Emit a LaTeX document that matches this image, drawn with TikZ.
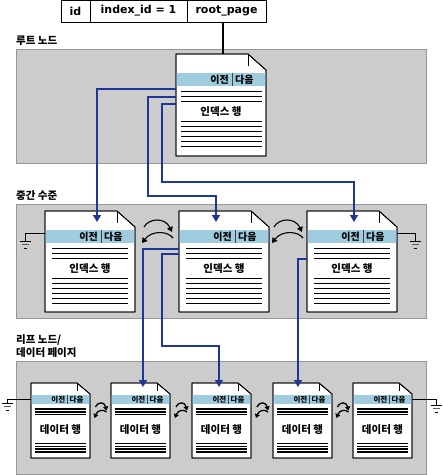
\documentclass[tikz,border=0pt]{standalone}
\usepackage{fontspec}
\setmainfont{DejaVu Sans}
\newfontfamily\kr{Noto Sans CJK KR}
\usetikzlibrary{arrows.meta}
\definecolor{panelgray}{RGB}{204,204,204}
\definecolor{panelline}{RGB}{150,150,150}
\definecolor{bandblue}{RGB}{160,204,224}
\definecolor{linkblue}{RGB}{30,55,150}
\definecolor{gndgray}{RGB}{90,90,90}
\tikzset{
  panel/.style={fill=panelgray, draw=panelline, line width=1pt},
  pageborder/.style={draw=black, fill=white, line width=0.8pt},
  rowline/.style={line width=1.9pt},
  leafrow/.style={line width=1.6pt},
  link/.style={draw=linkblue, line width=1.5pt, -{Triangle[length=7pt,width=8pt]}},
  swaparrow/.style={line width=1.1pt, -{Triangle[length=5pt,width=6pt]}},
  leafswap/.style={line width=1.3pt, -{Triangle[length=4pt,width=5pt]}},
  gnd/.style={line width=0.8pt},
  lbl/.style={font=\kr\bfseries\fontsize{10.5}{11}\selectfont, anchor=west, inner sep=0},
  cell/.style={font=\bfseries\fontsize{11}{12}\selectfont, inner sep=0},
  bandtxt/.style={font=\kr\bfseries\fontsize{10}{11}\selectfont, inner sep=0},
  leafband/.style={font=\kr\bfseries\fontsize{7.5}{8}\selectfont, inner sep=0},
  rowtxt/.style={font=\kr\bfseries\fontsize{10.5}{11}\selectfont, inner sep=0},
  leaftxt/.style={font=\kr\bfseries\fontsize{10.5}{11}\selectfont, inner sep=0},
}
% index page: name, x1, y1, height, margin
\newcommand\idxpage[5]{%
  \begin{scope}[shift={(#2,#3)}]
    \path[pageborder] (0,0) -- (72,0) -- (90,16) -- (90,#4) -- (0,#4) -- cycle;
    \fill[bandblue] (0.4,18.5) rectangle (89.6,32);
    \draw[line width=0.8pt] (0,0) -- (72,0) -- (90,16) -- (90,#4) -- (0,#4) -- cycle;
    \draw[line width=0.6pt] (72,0) -- (72,12);
    \draw[line width=1pt, black!75] (56,18.5) -- (56,32);
    \node[bandtxt, anchor=east] (#1-prev) at (53,25.5) {이전};
    \node[bandtxt, anchor=west] (#1-next) at (59,25.5) {다음};
    \foreach \yy in {37.5,42.5,47.5} \draw[rowline] (#5,\yy) -- (90-#5,\yy);
    \node[rowtxt] (#1-rows) at (45,57.5) {인덱스 행};
    \foreach \yy in {67.5,72.5,77.5,82.5,87.5,92.5} \draw[rowline] (#5,\yy) -- (90-#5,\yy);
    \coordinate (#1) at (0,0);
  \end{scope}}
% leaf page: name, x1, y1
\newcommand\leafpage[3]{%
  \begin{scope}[shift={(#2,#3)}]
    \path[pageborder] (0,0) -- (46,0) -- (59,11) -- (59,75) -- (0,75) -- cycle;
    \fill[bandblue] (0.4,12) rectangle (58.6,21);
    \draw[line width=0.8pt] (0,0) -- (46,0) -- (59,11) -- (59,75) -- (0,75) -- cycle;
    \draw[line width=0.6pt] (46,0) -- (46,8);
    \draw[line width=1.2pt, black!75] (36.5,12) -- (36.5,21);
    \node[leafband, anchor=east] (#1-prev) at (34.5,16.5) {이전};
    \node[leafband, anchor=west] (#1-next) at (38.5,16.5) {다음};
    \foreach \yy in {26,28.8,31.6} \draw[leafrow] (4,\yy) -- (54.5,\yy);
    \node[leaftxt] (#1-rows) at (29.5,47) {데이터 행};
    \foreach \yy in {60.5,63.3,66.1,68.9} \draw[leafrow] (4,\yy) -- (54.5,\yy);
    \coordinate (#1) at (0,0);
  \end{scope}}
\newcommand\groundsym[2]{%
  \draw[gnd] (#1-5.5,#2) -- (#1+5.5,#2);
  \draw[gnd, gndgray] (#1-3.5,#2+3.5) -- (#1+3.5,#2+3.5);
  \draw[gnd] (#1-1.5,#2+7) -- (#1+1.5,#2+7);}
\begin{document}
\begin{tikzpicture}[x=1pt,y=-1pt]
\useasboundingbox (0,0) rectangle (443,475);
% panels
\path[panel] (16,49) rectangle (426,163);
\path[panel] (16,204) rectangle (426,318);
\path[panel] (16,361) rectangle (426,474);
\node[lbl] (l1) at (16,41) {루트 노드};
\node[lbl] (l2) at (16,196) {중간 수준};
\node[lbl] (l3) at (16,340) {리프 노드/};
\node[lbl] (l4) at (16,352.5) {데이터 페이지};
% top table
\draw[line width=0.9pt, fill=white] (61,0.5) rectangle (266,22);
\draw[line width=0.9pt] (90,0.5) -- (90,22) (187,0.5) -- (187,22);
\node[cell] (tid) at (75.5,11) {id};
\node[cell] (tidx) at (138.5,11) {index\_id = 1};
\node[cell] (troot) at (226.5,11) {root\_page};
\coordinate (tbot) at (223,22);
\coordinate (rtop) at (223,54);
\draw[line width=1.4pt] (tbot) -- (rtop);
% pages
\idxpage{root}{176}{54}{102}{4.5}
\idxpage{mid1}{45}{211}{101}{7}
\idxpage{mid2}{179}{211}{101}{7}
\idxpage{mid3}{307}{211}{101}{7}
\leafpage{leaf1}{31}{383}
\leafpage{leaf2}{111}{383}
\leafpage{leaf3}{192}{383}
\leafpage{leaf4}{273}{383}
\leafpage{leaf5}{353}{383}
% connector points
\coordinate (r1) at (176,89);
\coordinate (r2) at (176,97);
\coordinate (r3) at (176,104);
\coordinate (m1in) at (97,222);
\coordinate (m2in) at (216,222);
\coordinate (m3in) at (354,222);
\coordinate (m2a) at (179,249);
\coordinate (m2b) at (179,254);
\coordinate (m3a) at (307,259);
\coordinate (l2in) at (143,387);
\coordinate (l3in) at (219,387);
\coordinate (l4in) at (298,387);
% root -> intermediate
\draw[link] (r1) -| (m1in);
\draw[link] (r2) -- (148,97) |- (216,196) -- (m2in);
\draw[link] (r3) -- (162,104) |- (354,182) -- (m3in);
% intermediate -> leaf
\draw[link] (m2a) -| (l2in);
\draw[link] (m2b) -- (162,254) |- (219,346) -- (l3in);
\draw[link] (m3a) -| (l4in);
% intermediate swaps
\foreach \dx in {0,130} {
  \draw[swaparrow] (144+\dx,227) .. controls (149+\dx,218) and (165+\dx,217) .. (172+\dx,232);
  \draw[swaparrow] (173+\dx,238) .. controls (168+\dx,231) and (152+\dx,230) .. (142+\dx,243);
}
% leaf swaps
\foreach \cx in {100.5,181,262,342.5} {
  \draw[leafswap] (\cx-5,407) .. controls (\cx-2,401) and (\cx+4,402) .. (\cx+6,410.5);
  \draw[leafswap] (\cx+6,412) .. controls (\cx+3,409) and (\cx-3,410) .. (\cx-6,418);
}
% grounds
\coordinate (g1) at (25,241);
\coordinate (g2) at (415,241);
\coordinate (g3) at (7,403);
\coordinate (g4) at (436,405);
\draw[gnd] (45,233) -| (g1);
\draw[gnd] (397,233) -| (g2);
\draw[gnd] (31,399) -| (g3);
\draw[gnd] (412,399) -| (g4);
\groundsym{25}{241}
\groundsym{415}{241}
\groundsym{7}{403}
\groundsym{436}{405}
\end{tikzpicture}
\end{document}
